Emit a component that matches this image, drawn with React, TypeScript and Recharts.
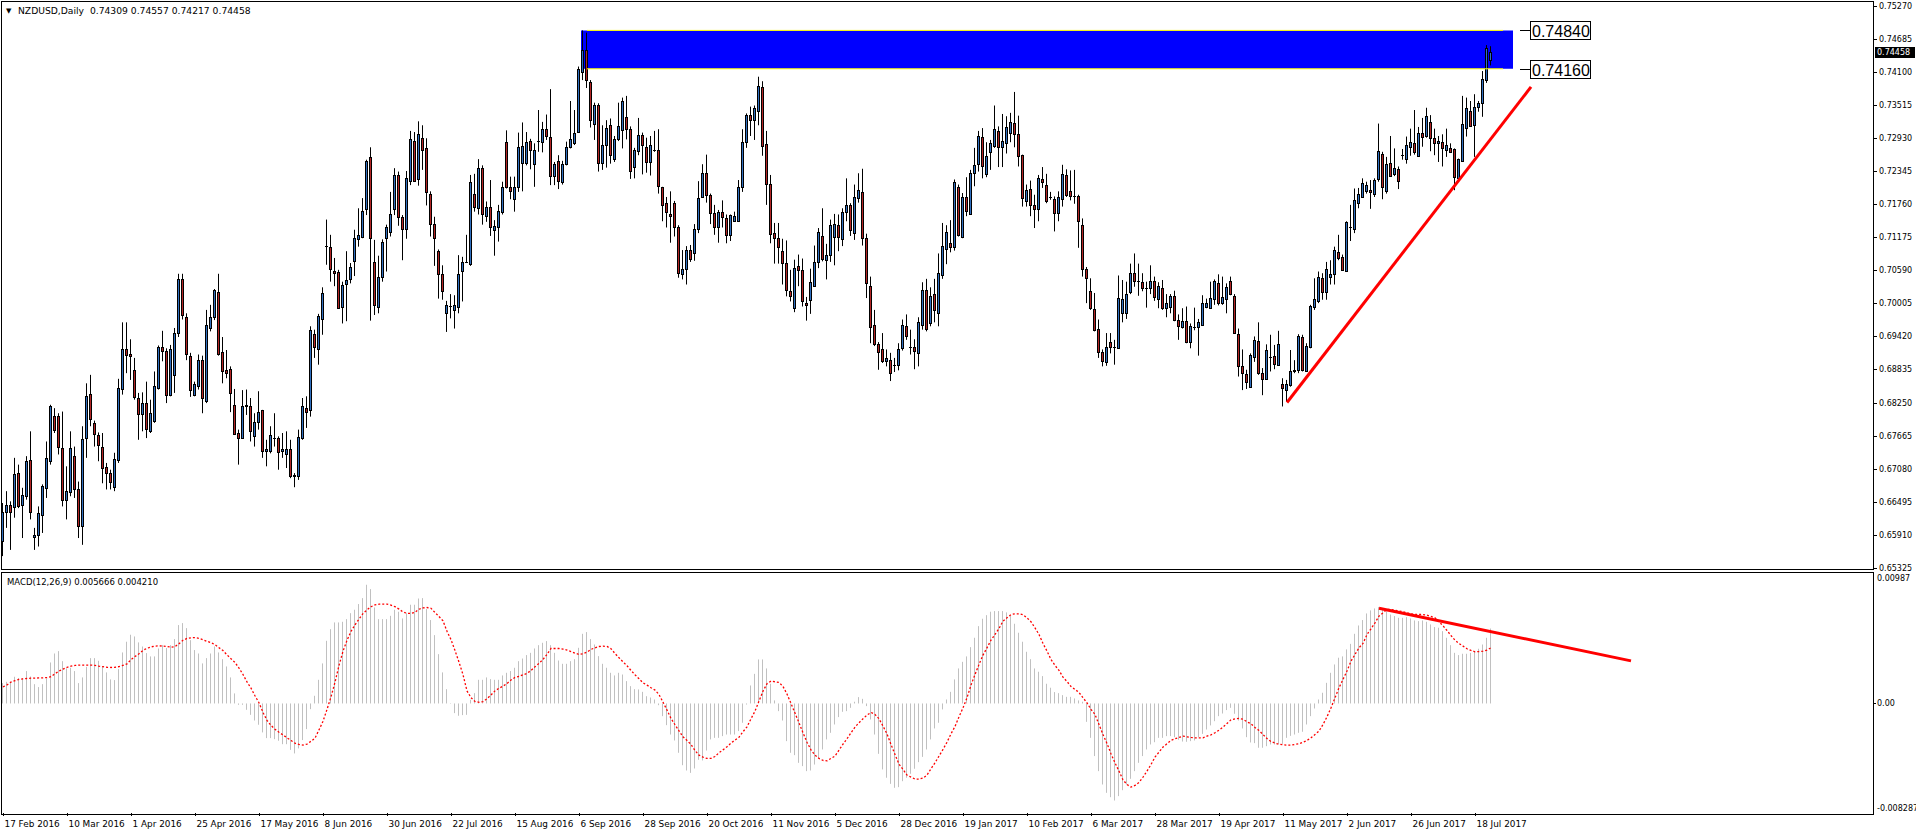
import { ComposedChart, Bar, Line, XAxis, YAxis, ReferenceArea, ReferenceLine } from 'recharts';

// daily NZDUSD candles, prices in pips (x 1/10000)
const openPips = [
  6579, 6632, 6644, 6640, 6700, 6644, 6660, 6724, 6587, 6591, 6626, 6674, 6721, 6802, 6802, 6744, 6653, 6666, 6731, 6671,
  6606, 6762, 6840, 6788, 6768, 6747, 6711, 6700, 6675, 6723, 6849, 6920, 6911, 6883, 6833, 6805, 6824, 6774, 6793, 6851,
  6923, 6917, 6839, 6874, 6948, 7044, 6977, 6908, 6839, 6855, 6901, 6827, 6957, 6976, 7021, 6914, 6883, 6884, 6821, 6771,
  6762, 6818, 6818, 6766, 6790, 6812, 6739, 6740, 6762, 6762, 6739, 6734, 6742, 6694, 6694, 6762, 6815, 6812, 6947, 6920,
  6973, 7103, 7101, 7058, 7057, 6994, 7035, 7043, 7075, 7114, 7119, 7167, 7260, 7074, 6994, 7048, 7116, 7127, 7167, 7228,
  7153, 7132, 7218, 7288, 7220, 7294, 7275, 7195, 7141, 7093, 7052, 6984, 6996, 6988, 6994, 7058, 7073, 7070, 7194, 7169,
  7241, 7156, 7172, 7130, 7136, 7163, 7286, 7207, 7186, 7207, 7250, 7250, 7289, 7247, 7288, 7287, 7310, 7296, 7227, 7253,
  7216, 7247, 7277, 7284, 7304, 7411, 7449, 7392, 7319, 7352, 7250, 7281, 7316, 7256, 7291, 7307, 7330, 7310, 7242, 7271,
  7299, 7277, 7251, 7273, 7273, 7206, 7178, 7158, 7178, 7135, 7052, 7061, 7095, 7089, 7132, 7189, 7231, 7192, 7160, 7136,
  7162, 7151, 7122, 7147, 7147, 7206, 7286, 7335, 7325, 7341, 7384, 7282, 7212, 7125, 7116, 7094, 7072, 7023, 6992, 7067,
  7060, 7001, 7006, 7032, 7074, 7120, 7077, 7087, 7118, 7140, 7115, 7163, 7174, 7125, 7188, 7198, 7116, 7032, 6962, 6929,
  6919, 6898, 6901, 6892, 6892, 6922, 6961, 6923, 6923, 6912, 6962, 7024, 6965, 7017, 6984, 7050, 7097, 7107, 7100, 7207,
  7119, 7189, 7159, 7231, 7247, 7296, 7230, 7268, 7279, 7306, 7277, 7284, 7302, 7320, 7300, 7263, 7182, 7203, 7174, 7168,
  7221, 7211, 7189, 7185, 7161, 7185, 7228, 7200, 7190, 7191, 7140, 7061, 7023, 6991, 6955, 6914, 6896, 6932, 6923, 6922,
  6984, 6984, 7020, 7054, 7041, 7039, 7027, 7027, 7041, 7009, 7027, 6992, 6995, 7014, 6972, 6959, 6969, 6932, 6958, 6959,
  6962, 6995, 6992, 7008, 7037, 7002, 7009, 7040, 7014, 6947, 6890, 6876, 6853, 6906, 6934, 6877, 6867, 6906, 6907, 6891,
  6857, 6847, 6856, 6880, 6882, 6941, 6881, 6924, 6995, 7004, 7045, 7020, 7048, 7052, 7091, 7082, 7058, 7136, 7132, 7179,
  7189, 7200, 7201, 7194, 7220, 7266, 7200, 7250, 7229, 7238, 7263, 7256, 7278, 7285, 7262, 7303, 7297, 7321, 7293, 7284,
  7287, 7272, 7275, 7274, 7223, 7253, 7312, 7341, 7317, 7348, 7355, 7397, 7431,
];
const highPips = [
  6647, 6668, 6650, 6727, 6715, 6674, 6730, 6774, 6603, 6641, 6680, 6756, 6821, 6815, 6806, 6809, 6712, 6774, 6747, 6685,
  6783, 6859, 6874, 6793, 6772, 6771, 6718, 6706, 6736, 6867, 6967, 6967, 6937, 6904, 6842, 6843, 6862, 6830, 6880, 6926,
  6952, 6921, 6927, 6957, 7053, 7053, 6983, 6913, 6862, 6910, 6908, 6989, 6998, 7026, 7053, 6941, 6918, 6889, 6849, 6777,
  6847, 6848, 6833, 6806, 6845, 6812, 6759, 6783, 6806, 6765, 6771, 6774, 6759, 6700, 6777, 6833, 6836, 6960, 6954, 6982,
  7029, 7149, 7122, 7081, 7060, 7039, 7093, 7072, 7131, 7169, 7187, 7255, 7277, 7113, 7085, 7114, 7140, 7198, 7240, 7234,
  7157, 7235, 7306, 7304, 7323, 7316, 7293, 7199, 7154, 7096, 7068, 7005, 7017, 7015, 7086, 7083, 7122, 7228, 7230, 7256,
  7245, 7181, 7219, 7148, 7175, 7216, 7307, 7225, 7225, 7303, 7321, 7304, 7292, 7284, 7343, 7322, 7335, 7380, 7251, 7263,
  7253, 7287, 7359, 7343, 7420, 7484, 7480, 7396, 7356, 7355, 7316, 7325, 7328, 7297, 7356, 7365, 7368, 7314, 7276, 7329,
  7303, 7294, 7297, 7306, 7309, 7207, 7189, 7199, 7182, 7139, 7095, 7102, 7104, 7141, 7217, 7247, 7264, 7195, 7175, 7166,
  7183, 7158, 7158, 7163, 7219, 7309, 7337, 7349, 7351, 7402, 7394, 7306, 7228, 7143, 7143, 7115, 7112, 7060, 7078, 7087,
  7080, 7012, 7062, 7103, 7134, 7169, 7106, 7149, 7159, 7158, 7169, 7222, 7178, 7211, 7231, 7239, 7124, 7048, 6989, 6932,
  6948, 6919, 6913, 6904, 6930, 6972, 6981, 6954, 6937, 6976, 7038, 7044, 7029, 7044, 7089, 7143, 7139, 7148, 7220, 7211,
  7196, 7224, 7237, 7276, 7306, 7311, 7286, 7290, 7351, 7314, 7336, 7332, 7338, 7375, 7333, 7264, 7211, 7218, 7193, 7228,
  7242, 7230, 7198, 7190, 7199, 7246, 7238, 7236, 7237, 7193, 7151, 7065, 7045, 7019, 6972, 6919, 6948, 6948, 6936, 7050,
  7042, 7039, 7071, 7089, 7071, 7054, 7039, 7068, 7048, 7038, 7042, 7017, 7017, 7023, 6981, 6992, 6995, 6965, 6993, 6973,
  7015, 7009, 7039, 7043, 7052, 7048, 7036, 7048, 7017, 6956, 6919, 6883, 6912, 6942, 6967, 6886, 6928, 6945, 6927, 6952,
  6868, 6865, 6918, 6900, 6946, 6945, 6930, 6998, 7045, 7057, 7054, 7074, 7077, 7101, 7122, 7087, 7146, 7175, 7204, 7205,
  7222, 7216, 7219, 7222, 7319, 7269, 7260, 7297, 7275, 7243, 7274, 7296, 7310, 7343, 7313, 7329, 7347, 7334, 7310, 7297,
  7300, 7310, 7284, 7275, 7257, 7368, 7365, 7359, 7371, 7359, 7412, 7458, 7456,
];
const lowPips = [
  6553, 6603, 6564, 6621, 6638, 6585, 6653, 6618, 6564, 6570, 6594, 6656, 6715, 6771, 6733, 6641, 6618, 6659, 6656, 6585,
  6573, 6727, 6783, 6747, 6721, 6682, 6671, 6671, 6668, 6718, 6839, 6877, 6865, 6830, 6759, 6774, 6762, 6771, 6789, 6848,
  6898, 6824, 6836, 6842, 6941, 6972, 6900, 6835, 6836, 6848, 6806, 6824, 6951, 6971, 6908, 6859, 6868, 6808, 6768, 6715,
  6762, 6803, 6756, 6747, 6777, 6727, 6712, 6735, 6747, 6706, 6727, 6709, 6691, 6675, 6688, 6759, 6780, 6800, 6904, 6892,
  6945, 7069, 7039, 7031, 6992, 6965, 6969, 7036, 7049, 7101, 7116, 7157, 6970, 6980, 6983, 7039, 7057, 7119, 7157, 7138,
  7077, 7115, 7210, 7216, 7209, 7237, 7174, 7119, 7067, 7009, 7007, 6950, 6974, 6956, 6983, 7004, 7072, 7067, 7163, 7158,
  7140, 7145, 7120, 7085, 7110, 7158, 7204, 7185, 7163, 7198, 7199, 7245, 7238, 7207, 7269, 7268, 7290, 7210, 7210, 7203,
  7211, 7245, 7275, 7281, 7303, 7396, 7382, 7312, 7290, 7234, 7237, 7241, 7248, 7251, 7288, 7275, 7291, 7221, 7222, 7263,
  7229, 7232, 7227, 7269, 7195, 7146, 7135, 7108, 7119, 7046, 7043, 7034, 7074, 7076, 7125, 7188, 7179, 7141, 7122, 7108,
  7135, 7107, 7111, 7145, 7145, 7198, 7276, 7297, 7290, 7316, 7262, 7175, 7107, 7071, 7071, 7034, 7013, 7004, 6985, 7031,
  6995, 6970, 6982, 7032, 7063, 7075, 7043, 7074, 7068, 7093, 7102, 7146, 7120, 7113, 7179, 7103, 7010, 6930, 6925, 6883,
  6895, 6889, 6863, 6879, 6882, 6917, 6936, 6910, 6884, 6889, 6954, 6951, 6960, 6967, 6960, 7044, 7070, 7091, 7094, 7119,
  7116, 7155, 7158, 7208, 7234, 7222, 7224, 7237, 7276, 7242, 7242, 7266, 7286, 7277, 7243, 7172, 7172, 7155, 7134, 7146,
  7205, 7178, 7184, 7128, 7146, 7172, 7189, 7183, 7177, 7099, 7048, 7001, 6989, 6951, 6904, 6889, 6890, 6912, 6892, 6922,
  6967, 6973, 7017, 7030, 7014, 7022, 6993, 7017, 7005, 6992, 6989, 6976, 6983, 6969, 6936, 6956, 6930, 6921, 6953, 6908,
  6962, 6992, 6992, 6998, 6997, 6998, 6983, 7015, 6947, 6871, 6847, 6849, 6851, 6897, 6874, 6838, 6865, 6880, 6884, 6891,
  6818, 6827, 6853, 6877, 6877, 6880, 6880, 6921, 6989, 7001, 7007, 7007, 7034, 7034, 7077, 7058, 7057, 7111, 7125, 7169,
  7188, 7195, 7168, 7189, 7216, 7185, 7195, 7225, 7226, 7203, 7255, 7248, 7262, 7264, 7260, 7278, 7294, 7270, 7263, 7251,
  7243, 7260, 7268, 7201, 7222, 7251, 7296, 7313, 7260, 7340, 7331, 7391, 7422,
];
const closePips = [
  6631, 6644, 6632, 6699, 6642, 6662, 6722, 6632, 6591, 6629, 6677, 6727, 6818, 6777, 6747, 6653, 6668, 6744, 6672, 6607,
  6760, 6837, 6796, 6770, 6750, 6709, 6701, 6685, 6725, 6851, 6920, 6910, 6907, 6835, 6805, 6824, 6778, 6806, 6855, 6923,
  6916, 6839, 6920, 6948, 7044, 6980, 6911, 6848, 6857, 6901, 6833, 6962, 6976, 7024, 6911, 6880, 6878, 6841, 6770, 6762,
  6818, 6821, 6774, 6790, 6809, 6739, 6743, 6768, 6762, 6737, 6742, 6742, 6694, 6696, 6764, 6818, 6808, 6953, 6923, 6979,
  7019, 7103, 7061, 7055, 6992, 7033, 7042, 7065, 7116, 7122, 7165, 7252, 7116, 6997, 7047, 7109, 7135, 7158, 7228, 7153,
  7132, 7222, 7291, 7218, 7300, 7273, 7197, 7141, 7116, 7052, 7023, 6998, 6996, 6998, 7052, 7074, 7073, 7216, 7171, 7240,
  7158, 7172, 7136, 7137, 7165, 7207, 7207, 7199, 7206, 7277, 7280, 7286, 7273, 7272, 7289, 7310, 7297, 7227, 7247, 7218,
  7248, 7278, 7291, 7303, 7415, 7449, 7396, 7326, 7352, 7250, 7281, 7312, 7263, 7291, 7314, 7359, 7309, 7235, 7272, 7299,
  7281, 7251, 7281, 7273, 7209, 7174, 7162, 7156, 7135, 7055, 7061, 7095, 7080, 7132, 7188, 7231, 7192, 7160, 7136, 7162,
  7153, 7122, 7157, 7156, 7206, 7286, 7334, 7326, 7346, 7386, 7279, 7212, 7123, 7116, 7100, 7072, 7024, 7013, 7063, 7060,
  7004, 6997, 7038, 7074, 7127, 7080, 7087, 7140, 7141, 7119, 7162, 7174, 7131, 7189, 7202, 7117, 7036, 6958, 6929, 6914,
  6898, 6904, 6877, 6892, 6919, 6962, 6943, 6923, 6916, 6968, 7024, 6955, 7014, 6989, 7054, 7102, 7127, 7101, 7215, 7121,
  7189, 7165, 7231, 7245, 7297, 7243, 7261, 7284, 7309, 7277, 7289, 7313, 7322, 7300, 7261, 7187, 7202, 7175, 7168, 7222,
  7215, 7181, 7189, 7161, 7189, 7230, 7193, 7190, 7190, 7146, 7061, 7045, 6992, 6953, 6914, 6898, 6923, 6923, 6924, 7010,
  7009, 7017, 7054, 7041, 7041, 7028, 7027, 7041, 7012, 7032, 6993, 7002, 7014, 6972, 6961, 6969, 6933, 6961, 6958, 6967,
  7001, 7002, 7010, 7040, 7002, 7011, 7029, 7017, 6949, 6890, 6877, 6862, 6909, 6936, 6877, 6867, 6918, 6906, 6894, 6928,
  6850, 6857, 6881, 6882, 6942, 6882, 6925, 6996, 7009, 7048, 7021, 7062, 7052, 7095, 7081, 7060, 7144, 7136, 7184, 7195,
  7213, 7210, 7197, 7219, 7270, 7207, 7248, 7227, 7240, 7217, 7263, 7281, 7287, 7268, 7303, 7296, 7332, 7294, 7284, 7288,
  7275, 7281, 7269, 7224, 7257, 7319, 7346, 7315, 7348, 7355, 7398, 7452, 7446,
];

// MACD(12,26,9) main and signal, in units of 1/10000
const macdMain = [
  15.4, 16.4, 16.4, 20.2, 19.2, 19.2, 24.5, 20.4, 14.6, 12.4, 14.6, 18.9, 31.0, 37.8, 39.6, 32.0, 26.5, 27.0, 24.5, 15.4,
  19.7, 27.7, 34.3, 34.3, 32.3, 28.0, 23.5, 18.2, 17.7, 26.0, 38.6, 46.7, 52.0, 50.7, 46.2, 43.1, 38.1, 35.6, 35.6, 41.6,
  44.1, 41.9, 44.1, 48.7, 59.3, 60.8, 57.0, 47.9, 40.4, 37.8, 30.3, 34.3, 37.8, 43.1, 38.6, 33.5, 28.0, 19.7, 7.6, -1.0,
  -1.0, -4.8, -8.6, -12.9, -16.1, -21.9, -26.2, -26.2, -27.0, -28.2, -30.8, -30.8, -35.1, -37.8, -34.0, -27.7, -19.4, -4.3, 5.8, 17.9,
  30.3, 47.4, 56.2, 61.3, 61.3, 61.8, 63.8, 68.3, 70.9, 75.2, 79.7, 89.8, 86.5, 72.6, 63.8, 63.8, 63.8, 66.3, 70.9, 69.4,
  64.3, 68.3, 74.7, 74.7, 79.4, 79.7, 71.4, 63.1, 51.7, 37.3, 23.5, 10.8, 0.3, -7.3, -9.3, -8.8, -8.6, 2.8, 7.8, 17.9,
  17.9, 19.7, 18.4, 17.9, 17.9, 21.2, 23.2, 24.5, 27.0, 32.0, 34.0, 36.6, 38.3, 41.6, 44.1, 45.9, 47.2, 44.1, 38.3, 32.5,
  30.0, 30.0, 32.0, 33.5, 42.1, 52.7, 54.0, 48.7, 44.6, 35.8, 30.0, 27.0, 23.2, 21.2, 23.2, 21.9, 16.9, 13.1, 10.8, 10.6,
  8.8, 5.5, 4.5, 3.0, -1.3, -9.6, -16.4, -23.5, -28.0, -37.3, -46.7, -50.7, -52.5, -49.2, -42.6, -43.1, -35.6, -27.2, -26.0, -26.0,
  -24.7, -23.5, -23.5, -23.5, -20.9, -14.6, -0.8, 13.6, 22.4, 33.3, 33.3, 26.5, 14.9, 2.3, -5.8, -12.9, -28.5, -37.3, -39.1, -44.9,
  -47.4, -51.2, -50.7, -46.2, -41.6, -34.8, -27.2, -22.2, -15.9, -10.3, -6.3, -5.8, -3.3, 1.3, 4.8, 3.5, -2.0, -12.1, -23.5, -38.1,
  -49.9, -56.2, -60.8, -63.8, -63.3, -58.8, -56.2, -53.2, -49.4, -44.4, -40.4, -34.8, -27.2, -18.9, -14.6, -4.5, 3.0, 8.8, 18.2, 26.5,
  31.5, 35.6, 42.6, 49.7, 58.5, 64.1, 66.8, 69.4, 69.9, 69.9, 69.9, 68.9, 66.1, 60.3, 53.5, 46.7, 39.1, 33.5, 26.5, 24.0,
  20.7, 14.9, 11.9, 8.6, 7.8, 6.3, 5.0, 5.0, 3.8, 2.3, 1.3, -13.9, -26.0, -39.8, -51.2, -61.3, -67.6, -70.9, -73.4, -70.1,
  -65.6, -61.3, -57.0, -51.2, -44.9, -39.8, -34.8, -31.0, -29.3, -26.0, -26.0, -24.7, -24.7, -25.5, -27.5, -28.8, -29.0, -28.5, -28.0, -25.5,
  -23.0, -19.7, -16.6, -13.4, -9.6, -7.6, -5.0, -3.3, -7.8, -12.9, -18.9, -25.5, -29.5, -30.0, -33.5, -33.5, -32.3, -31.0, -31.0, -30.5,
  -30.5, -26.0, -24.5, -23.5, -22.2, -21.4, -15.9, -9.6, -3.8, 3.0, 8.1, 15.6, 23.2, 29.5, 34.6, 35.6, 40.9, 45.1, 52.7, 59.0,
  63.1, 68.1, 70.4, 71.9, 72.9, 71.1, 69.6, 67.3, 66.1, 64.8, 64.8, 65.3, 64.3, 62.8, 62.3, 62.8, 61.8, 59.8, 57.8, 57.3,
  54.7, 49.7, 44.1, 38.3, 36.6, 37.6, 37.6, 38.3, 39.6, 41.4, 44.6, 49.7, 56.7,
];
const macdSignal = [
  12.6, 14.0, 16.2, 17.2, 18.2, 18.6, 18.9, 19.1, 19.2, 19.3, 19.4, 19.6, 20.3, 22.5, 24.5, 26.0, 27.3, 28.2, 28.8, 29.0,
  29.0, 29.0, 29.0, 28.8, 28.2, 27.8, 27.4, 27.2, 27.4, 27.9, 28.9, 29.9, 33.2, 35.5, 37.6, 40.2, 41.7, 42.8, 43.4, 43.6,
  43.4, 43.1, 42.6, 43.0, 45.2, 47.8, 49.2, 49.7, 49.8, 49.3, 48.2, 47.0, 46.0, 44.5, 42.2, 40.0, 36.8, 33.8, 31.0, 26.8,
  21.9, 16.3, 11.6, 5.8, 0.5, -6.8, -12.8, -16.6, -19.5, -21.8, -23.8, -26.0, -28.0, -30.1, -31.0, -31.5, -30.7, -28.6, -26.2, -20.0,
  -13.5, -4.5, 5.0, 16.0, 28.8, 39.5, 47.8, 54.5, 59.5, 63.8, 68.0, 70.8, 73.2, 74.6, 75.1, 75.2, 75.2, 74.4, 73.2, 71.4,
  69.2, 68.2, 68.2, 68.9, 71.3, 72.3, 72.6, 72.0, 68.8, 65.8, 62.5, 54.6, 48.3, 40.0, 31.3, 21.8, 9.5, 4.4, 1.5, 0.9,
  1.4, 3.6, 6.4, 9.5, 11.5, 13.1, 15.1, 17.7, 19.7, 20.4, 21.7, 22.7, 25.0, 27.7, 30.3, 33.3, 37.1, 41.6, 41.6, 41.6,
  41.1, 40.4, 39.3, 38.1, 37.1, 37.6, 38.8, 40.9, 42.1, 43.1, 43.4, 43.1, 41.4, 37.8, 34.6, 31.5, 28.5, 25.0, 21.7, 18.7,
  15.6, 13.9, 11.9, 10.1, 6.8, 1.0, -5.0, -11.3, -16.1, -20.7, -25.2, -28.0, -31.0, -35.6, -39.1, -40.6, -41.6, -41.6, -40.1, -37.3,
  -35.1, -32.8, -30.0, -27.7, -25.5, -21.4, -17.7, -11.6, -5.8, 1.8, 9.3, 14.9, 16.9, 16.4, 15.9, 12.9, 7.1, 0.0, -7.3, -14.6,
  -22.2, -29.3, -35.1, -39.1, -41.6, -43.1, -43.4, -41.6, -39.8, -35.3, -30.8, -26.7, -22.2, -17.9, -14.6, -11.6, -8.8, -6.8, -8.3, -11.6,
  -17.1, -23.0, -31.0, -38.6, -45.9, -49.9, -54.2, -55.7, -57.2, -57.2, -56.5, -54.2, -49.4, -44.9, -39.8, -34.8, -29.3, -23.0, -17.4, -10.1,
  -3.3, 4.3, 13.9, 21.9, 29.5, 36.6, 42.1, 47.9, 52.2, 56.7, 62.3, 64.8, 67.3, 67.8, 67.8, 67.1, 64.8, 61.8, 57.2, 52.2,
  45.4, 39.6, 33.3, 28.8, 25.0, 19.9, 16.6, 12.9, 10.6, 8.3, 4.3, 0.5, -4.5, -8.3, -15.9, -23.5, -30.3, -38.1, -44.9, -51.2,
  -57.8, -61.3, -63.3, -62.0, -59.8, -55.7, -51.2, -46.2, -40.6, -36.8, -33.0, -30.5, -28.0, -26.7, -25.7, -24.7, -25.2, -25.7, -26.0, -26.0,
  -26.0, -24.7, -23.7, -22.2, -20.2, -17.9, -15.1, -12.4, -11.6, -11.3, -11.9, -13.9, -15.4, -18.2, -20.4, -23.5, -26.5, -28.8, -30.0, -30.8,
  -31.3, -31.5, -31.5, -31.0, -30.5, -29.3, -28.0, -26.0, -23.5, -20.9, -15.9, -10.1, -3.3, 4.3, 11.9, 18.2, 24.5, 32.0, 37.1, 42.1,
  45.4, 52.2, 56.5, 61.0, 66.1, 68.6, 71.1, 71.1, 70.6, 69.9, 69.4, 68.6, 67.8, 67.3, 67.3, 67.3, 66.8, 65.8, 64.8, 61.8,
  58.8, 55.2, 51.4, 47.9, 45.4, 43.4, 41.4, 40.1, 39.1, 39.3, 39.6, 40.4, 42.1,
];

// one label every 16 bars, starting at the first bar
const dateLabels = [
  '17 Feb 2016', '10 Mar 2016', '1 Apr 2016', '25 Apr 2016', '17 May 2016', '8 Jun 2016', '30 Jun 2016', '22 Jul 2016',
  '15 Aug 2016', '6 Sep 2016', '28 Sep 2016', '20 Oct 2016', '11 Nov 2016', '5 Dec 2016', '28 Dec 2016', '19 Jan 2017',
  '10 Feb 2017', '6 Mar 2017', '28 Mar 2017', '19 Apr 2017', '11 May 2017', '2 Jun 2017', '26 Jun 2017', '18 Jul 2017',
];
const priceTicks = [
  0.7527, 0.74685, 0.741, 0.73515, 0.7293, 0.72345, 0.7176, 0.71175, 0.7059, 0.70005, 0.6942, 0.68835, 0.6825, 0.67665,
  0.6708, 0.66495, 0.6591, 0.65325,
];
const macdTicks = [0.00987, 0, -0.008287];
const macdTickLabels = ['0.00987', '0.00', '-0.008287'];

const zoneTop = 0.7484;
const zoneBottom = 0.7416;
const lastPrice = 0.74458;

const SLOTS = 468; // bars that fit the window, the rest stays empty
const BULL = '#2f6fc0';
const BEAR = '#b32525';
const FONT = '"DejaVu Sans", Verdana, sans-serif';

const rows = Array.from({ length: SLOTS }, (_, i) =>
  i < closePips.length
    ? {
        i,
        open: openPips[i] / 10000,
        high: highPips[i] / 10000,
        low: lowPips[i] / 10000,
        close: closePips[i] / 10000,
        macd: macdMain[i] / 10000,
        signal: macdSignal[i] / 10000,
      }
    : { i }
);

const dateTicks = dateLabels.map((_, k) => k * 16);

function Candle(props: any) {
  const { x, y, width, height, payload } = props;
  if (!payload || payload.open == null || x == null) return null;
  const top0 = Math.min(y, y + height);
  const h = Math.abs(height);
  const cx = Math.floor(x + width / 2) + 0.5;
  const span = payload.high - payload.low || 1e-9;
  const py = (v: number) => top0 + ((payload.high - v) / span) * h;
  const bTop = Math.round(py(Math.max(payload.open, payload.close)));
  const bBot = Math.round(py(Math.min(payload.open, payload.close)));
  const up = payload.close >= payload.open;
  return (
    <g>
      <line x1={cx} x2={cx} y1={top0} y2={top0 + h} stroke="#000" strokeWidth={1} />
      {bBot - bTop < 1 ? (
        <line x1={cx - 1.5} x2={cx + 1.5} y1={bTop + 0.5} y2={bTop + 0.5} stroke="#000" strokeWidth={1} />
      ) : (
        <rect x={cx - 1} y={bTop + 0.5} width={2} height={bBot - bTop} fill={up ? BULL : BEAR} stroke="#000" strokeWidth={1} />
      )}
    </g>
  );
}

function HistBar(props: any) {
  const { x, y, width, height } = props;
  if (x == null || !height) return null;
  const left = Math.floor(x + width / 2);
  return <rect x={left} y={Math.min(y, y + height)} width={1} height={Math.abs(height)} fill="#c0c0c0" />;
}

function PriceTick(props: any) {
  const { y, payload } = props;
  const yy = Math.round(y) + 0.5;
  return (
    <g>
      <line x1={1874} x2={1877} y1={yy} y2={yy} stroke="#000" />
      <text x={1879} y={y} dy={3} fontSize={8} fontFamily={FONT} fill="#000">
        {payload.value.toFixed(5)}
      </text>
    </g>
  );
}

function MacdTick(props: any) {
  const { y, payload } = props;
  const k = macdTicks.indexOf(payload.value);
  const shift = k === 0 ? 5 : k === 2 ? -5 : 0;
  const yy = Math.round(y) + 0.5;
  return (
    <g>
      {k === 1 && <line x1={1874} x2={1876} y1={yy} y2={yy} stroke="#000" />}
      <text x={1877} y={y + shift} dy={3} fontSize={8} fontFamily={FONT} fill="#000">
        {macdTickLabels[k]}
      </text>
    </g>
  );
}

function DateTick(props: any) {
  const { x, y, payload } = props;
  const k = dateTicks.indexOf(payload.value);
  const xx = Math.floor(x) + 0.5;
  return (
    <g>
      <line x1={xx} x2={xx} y1={y} y2={y + 3} stroke="#000" />
      <text x={xx + 1} y={y + 14} fontSize={8.9} fontFamily={FONT} fill="#000">
        {dateLabels[k]}
      </text>
    </g>
  );
}

function LevelTag(props: any) {
  const y = Math.round(props.viewBox?.y ?? 0) + 0.5;
  return (
    <g>
      <line x1={1520} x2={1530} y1={y} y2={y} stroke="#000" />
      <rect x={1530.5} y={y - 9} width={60} height={18} fill="#fff" stroke="#000" />
      <text x={1532} y={y + 6} fontSize={16} fontFamily='"Liberation Sans", Arial, sans-serif' fill="#000">
        {props.text}
      </text>
    </g>
  );
}

function LastTag(props: any) {
  const y = Math.round(props.viewBox?.y ?? 0);
  return (
    <g>
      <rect x={1875} y={y - 5} width={40} height={11} fill="#000" />
      <text x={1877} y={y + 3} fontSize={8} fontFamily={FONT} fill="#fff">
        {lastPrice.toFixed(5)}
      </text>
    </g>
  );
}

export default function App() {
  return (
    <div style={{ position: 'absolute', left: 0, top: 0, width: 1916, height: 835, background: '#fff', fontFamily: FONT }}>
      <div style={{ position: 'absolute', left: 0, top: 0 }}>
        <ComposedChart width={1916} height={572} data={rows} margin={{ top: 2, right: 0, bottom: 2, left: 1 }}>
          <XAxis dataKey="i" type="category" hide />
          <YAxis
            orientation="right"
            width={43}
            domain={[0.65284, 0.75343]}
            allowDataOverflow
            ticks={priceTicks}
            interval={0}
            axisLine={false}
            tickLine={false}
            tick={<PriceTick />}
          />
          <ReferenceArea x1={145} x2={377} y1={zoneBottom} y2={zoneTop} fill="#0000ff" fillOpacity={1} stroke="none" />
          <ReferenceLine segment={[{ x: 146, y: zoneTop }, { x: 375, y: zoneTop }]} stroke="#ffff00" strokeWidth={1} />
          <ReferenceLine segment={[{ x: 146, y: zoneBottom }, { x: 375, y: zoneBottom }]} stroke="#ffff00" strokeWidth={1} />
          <Bar
            dataKey={(d: any) => (d.low == null ? null : [d.low, d.high])}
            barSize={4}
            shape={<Candle />}
            isAnimationActive={false}
          />
          <ReferenceLine segment={[{ x: 321, y: 0.6825 }, { x: 382, y: 0.7384 }]} stroke="#ff0000" strokeWidth={3} />
          <ReferenceLine y={zoneTop} stroke="none" label={<LevelTag text="0.74840" />} />
          <ReferenceLine y={zoneBottom} stroke="none" label={<LevelTag text="0.74160" />} />
          <ReferenceLine y={lastPrice} stroke="none" label={<LastTag />} />
        </ComposedChart>
      </div>
      <div style={{ position: 'absolute', left: 0, top: 572 }}>
        <ComposedChart width={1916} height={262} data={rows} margin={{ top: 1, right: 0, bottom: 0, left: 1 }}>
          <XAxis
            dataKey="i"
            type="category"
            ticks={dateTicks}
            interval={0}
            height={21}
            axisLine={false}
            tickLine={false}
            tickSize={0}
            tickMargin={0}
            tick={<DateTick />}
          />
          <YAxis
            orientation="right"
            width={43}
            domain={[-0.008287, 0.00987]}
            allowDataOverflow
            ticks={macdTicks}
            interval={0}
            axisLine={false}
            tickLine={false}
            tick={<MacdTick />}
          />
          <Bar dataKey="macd" barSize={4} shape={<HistBar />} isAnimationActive={false} />
          <Line
            dataKey="signal"
            type="linear"
            stroke="#ff0000"
            strokeWidth={1.3}
            strokeDasharray="2 2"
            dot={false}
            activeDot={false}
            isAnimationActive={false}
          />
          <ReferenceLine segment={[{ x: 344, y: 0.0072 }, { x: 407, y: 0.00322 }]} stroke="#ff0000" strokeWidth={3} />
        </ComposedChart>
      </div>
      <div style={{ position: 'absolute', left: 1, top: 1, width: 1873, height: 569, border: '1px solid #000', boxSizing: 'border-box', pointerEvents: 'none' }} />
      <div style={{ position: 'absolute', left: 1, top: 572, width: 1873, height: 243, border: '1px solid #000', boxSizing: 'border-box', pointerEvents: 'none' }} />
      <div style={{ position: 'absolute', left: 6, top: 6, fontSize: 7, lineHeight: '10px', color: '#000' }}>▼</div>
      <div style={{ position: 'absolute', left: 18, top: 6, fontSize: 9.2, lineHeight: '10px', color: '#000', whiteSpace: 'pre' }}>
        {'NZDUSD,Daily  0.74309 0.74557 0.74217 0.74458'}
      </div>
      <div style={{ position: 'absolute', left: 7, top: 577, fontSize: 8.5, lineHeight: '10px', color: '#000', whiteSpace: 'pre' }}>
        {'MACD(12,26,9) 0.005666 0.004210'}
      </div>
    </div>
  );
}
